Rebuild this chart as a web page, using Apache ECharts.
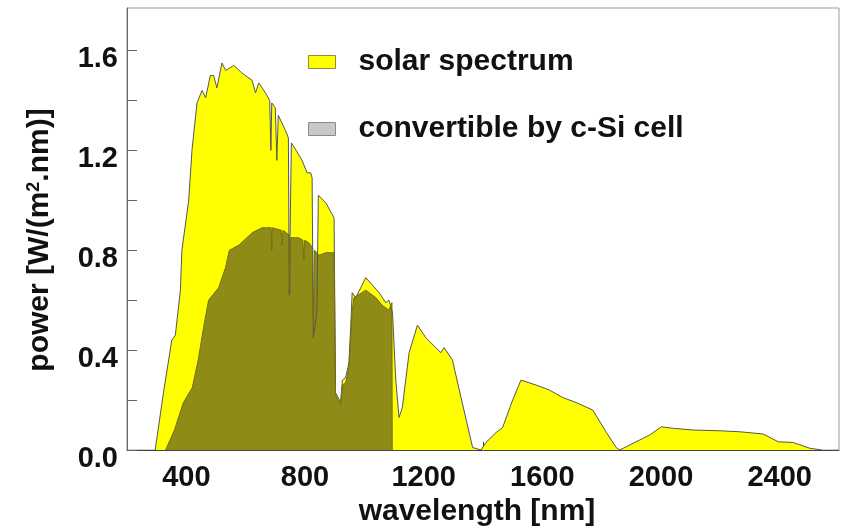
<!DOCTYPE html>
<html>
<head>
<meta charset="utf-8">
<script src="https://cdn.jsdelivr.net/npm/echarts@6/dist/echarts.min.js"></script>
<style>
  html, body { margin: 0; padding: 0; background: #fff; }
  #chart { width: 845px; height: 529px; }
</style>
</head>
<body>
<div id="chart"></div>
<script>
// solar spectrum (AM1.5)
const solarNm = [295, 323, 351, 363, 380, 385, 408, 419, 436, 453, 465, 481, 492, 503, 520, 533, 560, 587,
  622, 633, 644, 667, 681, 685, 688, 700, 705, 710, 734, 744, 747, 754, 770, 790, 807, 819, 824, 828, 840,
  845, 870, 898, 903, 920, 926, 937, 948, 954, 959, 971, 1005, 1050, 1072, 1083, 1095, 1106, 1117, 1128,
  1151, 1179, 1207, 1241, 1258, 1269, 1297, 1326, 1365, 1393, 1410, 1444, 1466, 1500, 1528, 1579, 1624,
  1669, 1714, 1770, 1816, 1849, 1861, 1928, 1962, 2001, 2041, 2108, 2198, 2266, 2345, 2395, 2446, 2502, 2542];
const solarW = [0, 0.23, 0.44, 0.46, 0.64, 0.80, 1.00, 1.20, 1.39, 1.44, 1.41, 1.50, 1.50, 1.45, 1.55, 1.52, 1.54, 1.51,
  1.48, 1.43, 1.47, 1.43, 1.40, 1.20, 1.39, 1.37, 1.16, 1.34, 1.28, 1.25, 0.62, 1.23, 1.20, 1.16, 1.11, 1.11, 1.09, 0.45, 0.55,
  1.02, 0.99, 0.93, 0.23, 0.19, 0.28, 0.29, 0.35, 0.49, 0.63, 0.61, 0.69, 0.63, 0.59, 0.60, 0.55, 0.28, 0.13, 0.17,
  0.39, 0.50, 0.45, 0.41, 0.39, 0.41, 0.36, 0.21, 0.01, 0, 0.03, 0.07, 0.09, 0.20, 0.28, 0.26, 0.24,
  0.21, 0.19, 0.16, 0.07, 0.01, 0, 0.04, 0.06, 0.093, 0.087, 0.08, 0.077, 0.073, 0.064, 0.033, 0.03, 0.007, 0];

// part convertible by a c-Si cell
const cellNm = [330, 360, 390, 420, 440, 458, 475, 509, 532, 545, 577, 622, 655, 686, 688, 690, 720, 723, 726,
  747, 749, 752, 779, 793, 796, 799, 813, 826, 829, 832, 847, 870, 898, 903, 920, 926, 937, 948, 954, 959,
  965, 1005, 1039, 1060, 1083, 1093, 1094];
const cellW = [0, 0.08, 0.19, 0.25, 0.36, 0.49, 0.60, 0.65, 0.73, 0.80, 0.82, 0.87, 0.89, 0.89, 0.80, 0.89, 0.88, 0.82, 0.88,
  0.86, 0.63, 0.85, 0.85, 0.84, 0.76, 0.84, 0.83, 0.81, 0.49, 0.80, 0.78, 0.79, 0.79, 0.22, 0.18, 0.26, 0.27, 0.33, 0.45, 0.56,
  0.61, 0.64, 0.61, 0.58, 0.56, 0.59, 0];

const seriesNames = ['solar spectrum', 'convertible by c-Si cell'];
const xTicks = [400, 800, 1200, 1600, 2000, 2400];
const yTicks = [0.0, 0.4, 0.8, 1.2, 1.6];

const font = "'Liberation Sans', Arial, sans-serif";
const zip = (a, b) => a.map((v, i) => [v, b[i]]);

const myChart = echarts.init(document.getElementById('chart'));
const option = {
  animation: false,
  grid: {
    left: 127, right: 6, top: 8, bottom: 79,
    outerBoundsMode: 'none',
    containLabel: false,
    show: true, borderColor: '#9a9a9a', borderWidth: 1
  },
  legend: {
    orient: 'vertical',
    left: 303,
    top: 42,
    itemWidth: 27,
    itemHeight: 13,
    itemGap: 37,
    icon: 'rect',
    textStyle: { fontFamily: font, fontSize: 30, fontWeight: 'bold', color: '#111', padding: [0, 0, 0, 18] },
    data: [
      { name: seriesNames[0], itemStyle: { color: '#ffff00', borderColor: '#8c8c40', borderWidth: 1 } },
      { name: seriesNames[1], itemStyle: { color: '#c8c8c8', borderColor: '#8a8a8a', borderWidth: 1 } }
    ]
  },
  xAxis: {
    type: 'value',
    min: 200, max: 2600, interval: 200,
    name: 'wavelength [nm]',
    nameLocation: 'middle',
    nameGap: 44,
    nameTextStyle: { fontFamily: font, fontSize: 30, fontWeight: 'bold', color: '#111', padding: [0, 12, 0, 0] },
    axisLine: { lineStyle: { color: '#444', width: 1 } },
    axisTick: { inside: true, length: 8, lineStyle: { color: '#444' } },
    splitLine: { show: false },
    axisLabel: {
      fontFamily: font, fontSize: 29, fontWeight: 'bold', color: '#111', margin: 13,
      showMinLabel: false, showMaxLabel: false,
      formatter: v => xTicks.indexOf(v) >= 0 ? String(v) : ''
    }
  },
  yAxis: {
    type: 'value',
    min: 0, max: 1.77, interval: 0.2,
    name: '{a|power [W/(m}{s|2}{a|.nm)]}',
    nameLocation: 'middle',
    nameRotate: 90,
    nameGap: 72,
    nameTextStyle: {
      padding: [0, 22, 0, 0],
      rich: {
        a: { fontFamily: font, fontSize: 30, fontWeight: 'bold', color: '#111' },
        s: { fontFamily: font, fontSize: 18, fontWeight: 'bold', color: '#111', verticalAlign: 'top', padding: [0, 0, 10, 0] }
      }
    },
    axisLine: { show: true, lineStyle: { color: '#666', width: 1 } },
    axisTick: { show: true, inside: true, length: 10, lineStyle: { color: '#666' } },
    splitLine: { show: false },
    axisLabel: {
      fontFamily: font, fontSize: 29, fontWeight: 'bold', color: '#111', margin: 9,
      verticalAlign: 'top', lineHeight: 18, showMaxLabel: false,
      formatter: v => yTicks.some(t => Math.abs(t - v) < 1e-6) ? v.toFixed(1) : ''
    }
  },
  series: [
    {
      name: seriesNames[0],
      type: 'line',
      data: zip(solarNm, solarW),
      showSymbol: false, symbol: 'none',
      itemStyle: { color: '#ffff00' },
      lineStyle: { color: '#555', width: 1 },
      areaStyle: { color: '#ffff00', opacity: 1 }
    },
    {
      name: seriesNames[1],
      type: 'line',
      data: zip(cellNm, cellW),
      showSymbol: false, symbol: 'none',
      itemStyle: { color: '#c8c8c8' },
      lineStyle: { color: '#737016', width: 1 },
      areaStyle: { color: '#8e8b16', opacity: 1 }
    }
  ]
};
myChart.setOption(option);
</script>
</body>
</html>
